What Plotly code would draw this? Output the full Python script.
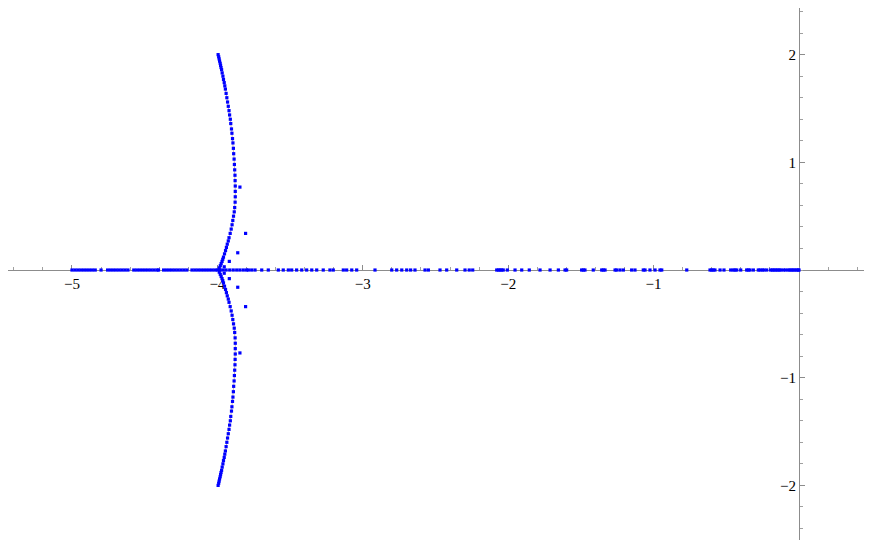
import plotly.graph_objects as go

# 实轴上的点 (-5 到 -4 之间较密)
real_dense = [-5.00, -4.98, -4.96, -4.94, -4.92, -4.90, -4.88, -4.86, -4.84,
              -4.80,
              -4.755, -4.735, -4.715, -4.695, -4.675, -4.655, -4.635, -4.615,
              -4.575, -4.555, -4.535, -4.515, -4.495, -4.475, -4.455, -4.435, -4.415, -4.405,
              -4.370, -4.350, -4.330, -4.310, -4.290, -4.270, -4.250, -4.230, -4.210,
              -4.175, -4.155, -4.135, -4.115, -4.095, -4.075, -4.055, -4.035, -4.015, -4.000]

# 实轴上的点 (-4 到 0 之间较稀)
real_sparse = [-3.980, -3.960, -3.940, -3.915, -3.891, -3.867, -3.845, -3.822, -3.800, -3.787,
               -3.764, -3.741, -3.695, -3.650, -3.581, -3.547, -3.512, -3.489, -3.455, -3.420,
               -3.386, -3.351, -3.317, -3.272, -3.226, -3.203, -3.134, -3.111, -3.076, -3.042,
               -2.916, -2.801, -2.767, -2.732, -2.698, -2.671, -2.641, -2.572, -2.549, -2.469,
               -2.423, -2.354, -2.297, -2.268, -2.244, -2.079, -2.067, -2.056, -2.045, -2.034,
               -2.006, -1.953, -1.907, -1.855, -1.781, -1.712, -1.655, -1.609, -1.598, -1.495,
               -1.483, -1.472, -1.415, -1.357, -1.346, -1.334, -1.265, -1.254, -1.231, -1.208,
               -1.151, -1.128, -1.071, -1.059, -1.025, -0.990, -0.956, -0.944, -0.772, -0.612,
               -0.600, -0.590, -0.578, -0.543, -0.516, -0.470, -0.452, -0.440, -0.428, -0.401,
               -0.360, -0.349, -0.337, -0.314, -0.280, -0.268, -0.252, -0.241, -0.222, -0.195,
               -0.183, -0.172, -0.160, -0.149, -0.137, -0.126, -0.108, -0.092, -0.074, -0.062,
               -0.050, -0.040, -0.028, -0.016, -0.005, 0.000]

# 复平面上的弧线 (上半部分)
arc_x = [-3.995, -3.991, -3.988, -3.985, -3.981, -3.978, -3.975, -3.971, -3.967, -3.962,
         -3.958, -3.953, -3.949, -3.945, -3.940, -3.935, -3.930, -3.925, -3.920, -3.916,
         -3.911, -3.908, -3.903, -3.900, -3.896, -3.893, -3.890, -3.888, -3.885, -3.883,
         -3.881, -3.879, -3.878, -3.877, -3.877, -3.877, -3.878, -3.881, -3.884, -3.889,
         -3.894, -3.899, -3.905, -3.912, -3.920, -3.925, -3.932, -3.938, -3.944, -3.951,
         -3.958, -3.963, -3.968, -3.974, -3.980, -3.987]
arc_y_upper = [2.00, 1.98, 1.96, 1.94, 1.92, 1.90, 1.88, 1.86, 1.83, 1.80,
               1.77, 1.74, 1.71, 1.68, 1.64, 1.60, 1.56, 1.52, 1.48, 1.44,
               1.40, 1.36, 1.31, 1.27, 1.22, 1.18, 1.13, 1.08, 1.03, 0.98,
               0.93, 0.88, 0.83, 0.78, 0.73, 0.68, 0.63, 0.58, 0.54, 0.50,
               0.46, 0.42, 0.38, 0.34, 0.30, 0.27, 0.24, 0.21, 0.18, 0.15,
               0.12, 0.10, 0.08, 0.06, 0.04, 0.02]
arc_y_lower = [-2.00, -1.98, -1.96, -1.94, -1.92, -1.90, -1.88, -1.86, -1.83, -1.80,
               -1.77, -1.74, -1.71, -1.68, -1.64, -1.60, -1.56, -1.52, -1.48, -1.44,
               -1.40, -1.36, -1.31, -1.27, -1.22, -1.18, -1.13, -1.08, -1.03, -0.98,
               -0.93, -0.88, -0.83, -0.78, -0.73, -0.68, -0.63, -0.58, -0.54, -0.50,
               -0.46, -0.42, -0.38, -0.34, -0.30, -0.27, -0.24, -0.21, -0.18, -0.15,
               -0.12, -0.10, -0.08, -0.06, -0.04, -0.02]

# 弧线旁边的离散点
stray_x = [-3.845, -3.806, -3.860, -3.918, -3.953, -3.953, -3.918, -3.860, -3.806, -3.845]
stray_y = [0.77, 0.34, 0.16, 0.08, 0.03, -0.03, -0.08, -0.16, -0.34, -0.77]

x_ticks = [-5, -4, -3, -2, -1]
y_ticks = [-2, -1, 1, 2]

# 页面自带 8px 边距, 所以图比窗口小 8px
X_RANGE = [-5.440, 0.502]
Y_RANGE = [-2.507, 2.433]

BLUE = '#0000ff'
marker = dict(color=BLUE, size=3.2, symbol='square', line=dict(width=0))

fig = go.Figure()

# 弧线下面的细线
for ys in (arc_y_upper, arc_y_lower):
    fig.add_trace(go.Scatter(x=arc_x + [-4.0], y=ys + [0.0], mode='lines',
                             line=dict(color='#b89aa8', width=0.8), hoverinfo='skip'))

fig.add_trace(go.Scatter(x=real_dense, y=[0] * len(real_dense), mode='markers', marker=marker))
fig.add_trace(go.Scatter(x=real_sparse, y=[0] * len(real_sparse), mode='markers', marker=marker))
fig.add_trace(go.Scatter(x=arc_x, y=arc_y_upper, mode='markers', marker=marker))
fig.add_trace(go.Scatter(x=arc_x, y=arc_y_lower, mode='markers', marker=marker))
fig.add_trace(go.Scatter(x=stray_x, y=stray_y, mode='markers', marker=marker))

axis_font = dict(family='Liberation Serif', size=15, color='#000000')

# 坐标轴穿过原点
fig.update_layout(
    width=864, height=532,
    margin=dict(l=0, r=0, t=0, b=0),
    paper_bgcolor='white', plot_bgcolor='white',
    showlegend=False,
    xaxis=dict(
        range=X_RANGE, anchor='free',
        position=(0 - Y_RANGE[0]) / (Y_RANGE[1] - Y_RANGE[0]),
        showgrid=False, zeroline=False,
        showline=True, linecolor='#8c8c8c', linewidth=1,
        tickmode='array', tickvals=x_ticks,
        ticks='inside', ticklen=5, tickcolor='#8c8c8c',
        minor=dict(ticks='inside', ticklen=3, tickcolor='#a0a0a0', dtick=0.2, tick0=0),
        tickfont=axis_font, layer='below traces',
    ),
    yaxis=dict(
        range=Y_RANGE, anchor='free',
        position=(0 - X_RANGE[0]) / (X_RANGE[1] - X_RANGE[0]),
        showgrid=False, zeroline=False,
        showline=True, linecolor='#8c8c8c', linewidth=1,
        tickmode='array', tickvals=y_ticks,
        ticks='inside', ticklen=5, tickcolor='#8c8c8c',
        minor=dict(ticks='inside', ticklen=3, tickcolor='#a0a0a0', dtick=0.2, tick0=0),
        tickfont=axis_font, layer='below traces',
    ),
)

fig.write_html("out.html")
